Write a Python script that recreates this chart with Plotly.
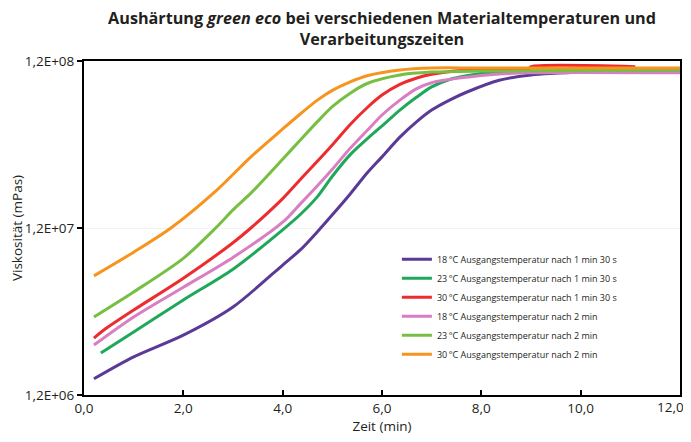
import plotly.graph_objects as go

# ---- data ----
x_purple = [0.2, 1.0, 2.0, 3.0, 4.0, 4.36, 4.7, 5.0, 5.36, 5.7, 6.0, 6.36, 6.7, 7.0, 7.36, 7.7, 8.36, 9.0, 10.1]
y_purple = [1.5e6, 2.03e6, 2.74e6, 4.04e6, 7.2e6, 8.9e6, 1.14e7, 1.44e7, 1.92e7, 2.56e7, 3.2e7, 4.2e7, 5.2e7, 6.1e7, 7.0e7, 7.8e7, 9.2e7, 9.9e7, 1.03e8]

x_green = [0.34, 1.0, 2.0, 3.0, 4.0, 4.36, 4.7, 5.0, 5.36, 5.7, 6.0, 6.36, 6.7, 7.0, 7.36, 7.7, 8.3, 9.0, 12.0]
y_green = [2.14e6, 2.86e6, 4.45e6, 6.8e6, 1.17e7, 1.45e7, 1.85e7, 2.45e7, 3.3e7, 4.1e7, 4.9e7, 6.1e7, 7.3e7, 8.4e7, 9.3e7, 9.8e7, 1.03e8, 1.045e8, 1.045e8]

x_red = [0.2, 0.4, 1.0, 2.0, 3.0, 3.36, 4.0, 4.36, 5.0, 5.36, 5.7, 6.0, 6.36, 6.7, 7.0, 8.0, 8.95, 9.0, 11.1]
y_red = [2.63e6, 2.94e6, 3.87e6, 6.0e6, 9.8e6, 1.2e7, 1.8e7, 2.35e7, 3.77e7, 5.0e7, 6.3e7, 7.5e7, 8.7e7, 9.5e7, 1.0e8, 1.075e8, 1.075e8, 1.11e8, 1.11e8]

x_pink = [0.2, 1.0, 2.0, 3.0, 4.0, 4.36, 4.7, 5.0, 5.36, 5.7, 6.0, 6.36, 6.7, 7.0, 7.7, 8.3, 9.0, 12.0]
y_pink = [2.39e6, 3.52e6, 5.3e6, 8.0e6, 1.3e7, 1.68e7, 2.15e7, 2.7e7, 3.6e7, 4.6e7, 5.7e7, 7.0e7, 8.2e7, 8.9e7, 9.6e7, 1.0e8, 1.02e8, 1.02e8]

x_lgreen = [0.2, 1.0, 2.0, 2.65, 3.0, 3.36, 4.0, 4.36, 4.7, 5.0, 5.36, 5.7, 6.36, 7.0, 8.0, 12.0]
y_lgreen = [3.52e6, 4.97e6, 7.9e6, 1.2e7, 1.54e7, 1.94e7, 3.1e7, 4.05e7, 5.2e7, 6.4e7, 7.7e7, 8.8e7, 9.9e7, 1.03e8, 1.045e8, 1.06e8]

x_orange = [0.2, 1.0, 1.75, 2.68, 3.36, 4.0, 4.36, 4.7, 5.0, 5.36, 5.7, 6.36, 7.0, 8.0, 12.0]
y_orange = [6.2e6, 8.6e6, 1.2e7, 2.03e7, 3.2e7, 4.7e7, 5.8e7, 7.0e7, 8.0e7, 9.0e7, 9.8e7, 1.06e8, 1.09e8, 1.09e8, 1.09e8]

series_names = [
    "18\u2009°C Ausgangstemperatur nach 1 min 30 s",
    "23\u2009°C Ausgangstemperatur nach 1 min 30 s",
    "30\u2009°C Ausgangstemperatur nach 1 min 30 s",
    "18\u2009°C Ausgangstemperatur nach 2 min",
    "23\u2009°C Ausgangstemperatur nach 2 min",
    "30\u2009°C Ausgangstemperatur nach 2 min",
]
series_colors = ["#5b3a96", "#1fa85a", "#ee2b2f", "#d97ec2", "#76bf43", "#f7941d"]

x_ticks = [0, 2, 4, 6, 8, 10, 12]
x_ticklabels = ["0,0", "2,0", "4,0", "6,0", "8,0", "10,0", "12,0"]
y_ticks = [1.2e6, 1.2e7, 1.2e8]
y_ticklabels = ["1,2E+06", "1,2E+07", "1,2E+08"]

xs = [x_purple, x_green, x_red, x_pink, x_lgreen, x_orange]
ys = [y_purple, y_green, y_red, y_pink, y_lgreen, y_orange]

FONT = "Open Sans"
TXT = "#231f20"

fig = go.Figure()
for i in range(6):
    fig.add_trace(go.Scatter(
        x=xs[i], y=ys[i], mode="lines", name=series_names[i],
        line=dict(color=series_colors[i], width=3, shape="spline", smoothing=0.8),
    ))

# last x tick label is drawn as an annotation so it stays inside the page edge
shown_ticktext = x_ticklabels[:-1] + [""]
fig.add_annotation(
    x=x_ticks[-1], y=0, xref="x", yref="paper", text=x_ticklabels[-1],
    showarrow=False, xanchor="right", yanchor="top", xshift=5, yshift=-2,
    borderpad=0, font=dict(size=13.5, family=FONT, color=TXT),
)

# the page body adds an 8px offset, so the figure is 8px smaller each way
fig.update_layout(
    width=683, height=434,
    margin=dict(l=76, r=11, t=53, b=47),
    paper_bgcolor="white", plot_bgcolor="white",
    font=dict(family=FONT, color=TXT, size=13),
    title=dict(
        text="Aushärtung <i>green eco</i> bei verschiedenen Materialtemperaturen und<br>Verarbeitungszeiten",
        x=0.5, xref="paper", xanchor="center", y=0.9636, yanchor="top",
        font=dict(family=FONT, size=16.2, color=TXT, weight="bold"),
    ),
    legend=dict(
        x=0.525, y=0.45, xanchor="left", yanchor="top",
        font=dict(size=9, family=FONT, color=TXT),
        bgcolor="rgba(0,0,0,0)", itemwidth=30, tracegroupgap=0,
    ),
    showlegend=True,
)
fig.update_xaxes(
    range=[0, 12], tickvals=x_ticks, ticktext=shown_ticktext, automargin=False,
    ticks="inside", ticklen=5, tickwidth=2, tickcolor="black",
    showline=True, linecolor="black", linewidth=2, mirror=True,
    showgrid=False, zeroline=False,
    title=dict(text="Zeit (min)", standoff=2, font=dict(size=13.5)),
    tickfont=dict(size=13.5),
)
fig.update_yaxes(
    type="log", range=[6.0792, 8.0792], tickvals=y_ticks, ticktext=y_ticklabels, automargin=False,
    ticklabeloverflow="allow",
    ticks="outside", ticklen=5, tickwidth=2, tickcolor="black",
    showline=True, linecolor="black", linewidth=2, mirror=True,
    showgrid=True, gridcolor="#f2f2f2", gridwidth=1, zeroline=False,
    title=dict(text="Viskosität (mPas)", standoff=14, font=dict(size=13.5)),
    tickfont=dict(size=13.5),
)
fig.write_html("out.html")
